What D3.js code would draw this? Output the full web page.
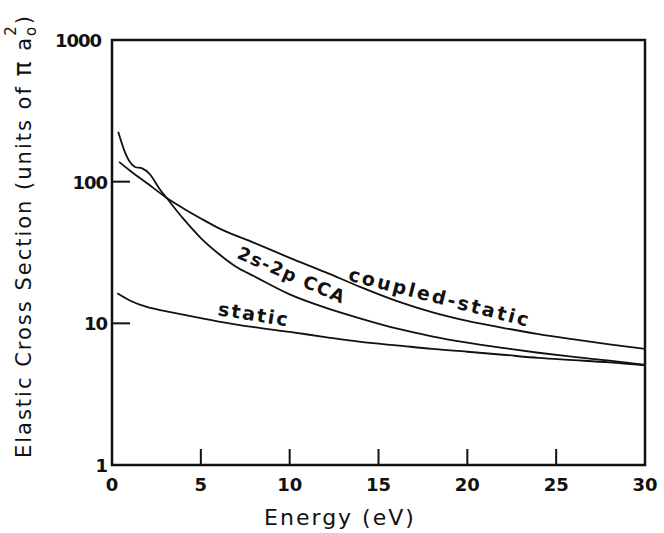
<!DOCTYPE html>
<html>
<head>
  <meta charset="utf-8">
  <title>Elastic cross section</title>
  <script src="https://cdn.jsdelivr.net/npm/d3@7"></script>
  <style>
    body{margin:0;background:#fff;}
    text{font-family:"DejaVu Sans",sans-serif;fill:#111;}
  </style>
</head>
<body>
<script>
  var w = 664, h = 533;
  var margin = {top:40, right:19, bottom:68, left:112};

  // energies (eV) and cross sections (units of pi a0^2)
  var coupledE = [0.4, 1, 2, 3, 4, 5, 6, 8, 10, 12, 14, 16, 18, 20, 22, 24, 26, 28, 30];
  var coupledV = [138, 120, 97, 78, 65, 55, 47, 37, 29, 23, 18, 14.4, 12, 10.4, 9.3, 8.4, 7.7, 7.1, 6.6];

  var ccaE = [0.35, 0.7, 1.0, 1.3, 1.7, 2.1, 2.7, 3.1, 4, 5, 6, 7, 8, 10, 12, 14, 16, 18, 20, 22, 24, 26, 28, 30];
  var ccaV = [225, 165, 138, 127, 124, 114, 88, 76, 55, 40, 31, 25, 21.5, 16, 12.9, 10.8, 9.2, 8.1, 7.3, 6.7, 6.2, 5.8, 5.45, 5.1];

  var staticE = [0.3, 1, 2, 3, 4, 6, 8, 10, 12, 14, 16, 18, 20, 22, 24, 26, 28, 30];
  var staticV = [16.3, 14.5, 13, 12.2, 11.5, 10.3, 9.4, 8.7, 8.0, 7.4, 7.0, 6.6, 6.3, 6.0, 5.7, 5.5, 5.3, 5.05];

  var xTicks = [0, 5, 10, 15, 20, 25, 30];
  var yTicks = [1, 10, 100, 1000];

  var svg = d3.select("body").append("svg").attr("width", w).attr("height", h);

  var x = d3.scaleLinear().domain([0, 30]).range([margin.left, w - margin.right]);
  var y = d3.scaleLog().domain([1, 1000]).range([h - margin.bottom, margin.top]);

  var line = d3.line()
    .x(function(d){return x(d[0]);})
    .y(function(d){return y(d[1]);})
    .curve(d3.curveMonotoneX);

  function pairs(a, b){ return a.map(function(v, i){ return [v, b[i]]; }); }

  [pairs(coupledE, coupledV), pairs(ccaE, ccaV), pairs(staticE, staticV)].forEach(function(s){
    svg.append("path").datum(s)
      .attr("d", line)
      .attr("fill", "none")
      .attr("stroke", "#111")
      .attr("stroke-width", 1.8);
  });

  // frame
  svg.append("rect")
    .attr("x", x(0)).attr("y", y(1000))
    .attr("width", x(30) - x(0)).attr("height", y(1) - y(1000))
    .attr("fill", "none").attr("stroke", "#111").attr("stroke-width", 2.5);

  // ticks, drawn inward
  svg.selectAll(".xt").data(xTicks.slice(1, -1)).enter().append("line")
    .attr("x1", function(d){return x(d);}).attr("x2", function(d){return x(d);})
    .attr("y1", y(1)).attr("y2", y(1) - 16)
    .attr("stroke", "#111").attr("stroke-width", 2);
  svg.selectAll(".yt").data(yTicks.slice(1, -1)).enter().append("line")
    .attr("x1", x(0)).attr("x2", x(0) + 18)
    .attr("y1", function(d){return y(d);}).attr("y2", function(d){return y(d);})
    .attr("stroke", "#111").attr("stroke-width", 2);

  svg.selectAll(".xl").data(xTicks).enter().append("text")
    .attr("x", function(d){return x(d);})
    .attr("y", y(1) + 26)
    .attr("text-anchor", "middle")
    .attr("font-size", "18px").attr("font-weight", "bold")
    .text(function(d){return d;});

  svg.selectAll(".yl").data(yTicks).enter().append("text")
    .attr("x", function(d){return d == 1000 ? x(0) - 11 : x(0) - 5;})
    .attr("y", function(d){return y(d) + 7;})
    .attr("text-anchor", "end")
    .attr("font-size", "18px").attr("font-weight", "bold")
    .attr("letter-spacing", "-1px")
    .text(function(d){return d;});

  // axis titles
  svg.append("text")
    .attr("x", 340).attr("y", 525)
    .attr("text-anchor", "middle")
    .attr("font-size", "22px").attr("letter-spacing", "2px")
    .text("Energy (eV)");

  var yt = svg.append("text")
    .attr("transform", "translate(31,236) rotate(-90)")
    .attr("text-anchor", "middle")
    .attr("font-size", "21px").attr("letter-spacing", "2px");
  yt.append("tspan").text("Elastic  Cross  Section  (units  of  ");
  yt.append("tspan").attr("font-size", "25px").text("\u03c0");
  yt.append("tspan").text(" a");
  yt.append("tspan").attr("font-size", "15px").attr("dy", 5).text("o");
  yt.append("tspan").attr("font-size", "15px").attr("dx", -11).attr("dy", -20).text("2");
  yt.append("tspan").attr("dy", 15).text(")");

  // curve labels
  function curveLabel(txt, cx, cy, ang, sp, fs){
    svg.append("text")
      .attr("transform", "translate(" + cx + "," + cy + ") rotate(" + ang + ")")
      .attr("text-anchor", "middle")
      .attr("dominant-baseline", "central")
      .attr("font-size", fs + "px").attr("font-weight", "bold")
      .attr("letter-spacing", sp + "px")
      .text(txt);
  }
  curveLabel("2s-2p CCA", 292, 275, 23.5, 1.5, 18);
  curveLabel("coupled-static", 440, 297, 14.5, 2.5, 19);
  curveLabel("static", 254, 314, 9, 2, 19);
</script>
</body>
</html>
